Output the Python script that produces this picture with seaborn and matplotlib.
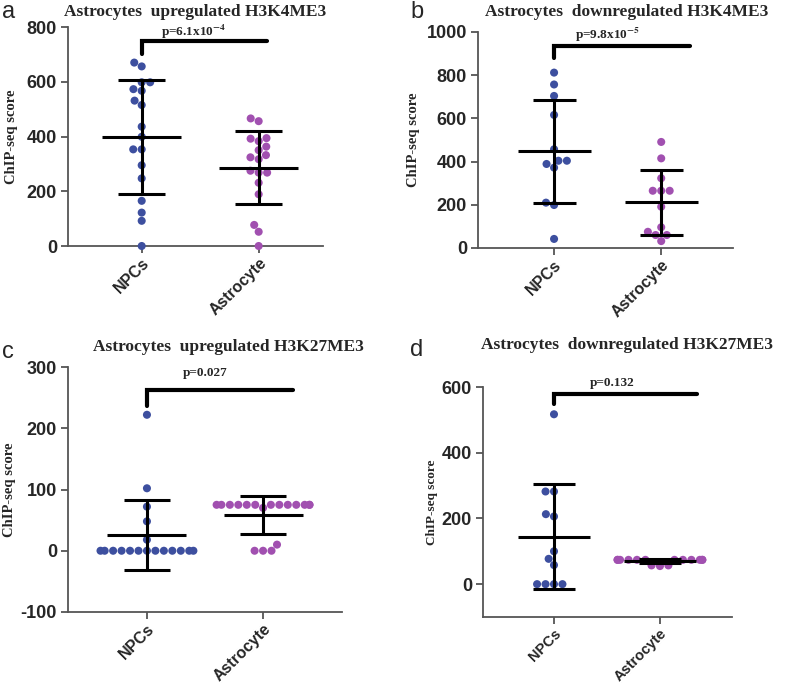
import numpy as np
import pandas as pd
import matplotlib
matplotlib.use("Agg")
import matplotlib.pyplot as plt
import seaborn as sns

groups = ["NPCs", "Astrocyte"]
colors = ["#3d4f9f", "#a150b0"]

# values (ChIP-seq scores)
a_npc = [670, 656, 598, 598, 573, 567, 531, 515, 436, 399, 353, 353, 295, 247, 165, 122, 92, 0]
a_ast = [466, 456, 394, 392, 383, 363, 350, 332, 324, 317, 275, 268, 268, 231, 189, 77, 52, 0]
b_npc = [812, 757, 704, 616, 457, 404, 404, 389, 372, 210, 199, 42]
b_ast = [491, 415, 323, 265, 265, 265, 191, 96, 75, 60, 60, 32]
c_npc = [222, 102, 72, 48, 18] + [0] * 13
c_ast = [75] * 13 + [70, 10, 0, 0, 0]
d_npc = [517, 282, 282, 213, 206, 100, 77, 58, 0, 0, 0, 0]
d_ast = [74] * 12 + [57, 57, 55]

titles = ["Astrocytes  upregulated H3K4ME3", "Astrocytes  downregulated H3K4ME3",
          "Astrocytes  upregulated H3K27ME3", "Astrocytes  downregulated H3K27ME3"]
letters = ["a", "b", "c", "d"]
pvals = [r"p=6.1x10$^{\mathbf{-4}}$", r"p=9.8x10$^{\mathbf{-5}}$", "p=0.027", "p=0.132"]
ylims = [(0, 800), (0, 1000), (-100, 300), (-100, 600)]
yticks = [np.arange(0, 801, 200), np.arange(0, 1001, 200),
          np.arange(-100, 301, 100), np.arange(0, 601, 200)]
xlims = [(-0.63, 1.55), (-0.71, 1.67), (-0.68, 1.68), (-0.67, 1.68)]
# bracket: y level, drop-to level, right end, text x, text y
brackets = [(750, 700, 1.07, 0.44, 782), (935, 880, 1.27, 0.5, 986),
            (262, 236, 1.26, 0.5, 290), (580, 548, 1.35, 0.55, 612)]
# axes boxes in pixels: left, top, right, bottom
boxes = [(68, 27, 323, 246), (478, 32, 733, 248), (68, 367, 342, 612), (483, 387, 732, 617)]
ylab_x = [-0.196, -0.227, -0.19, -0.18]
ylab_size = [10.5, 10.5, 10.5, 9.5]
xlab_size = [11.5, 11.5, 11.5, 10.5]
title_pos = [(195, 12), (627, 12), (228, 347), (627, 345)]
letter_pos = [(2, 12), (410, 12), (2, 352), (410, 350)]

data = [(a_npc, a_ast), (b_npc, b_ast), (c_npc, c_ast), (d_npc, d_ast)]

sns.set_style("ticks")
plt.rcParams["font.family"] = ["Liberation Sans", "DejaVu Sans"]
plt.rcParams["mathtext.fontset"] = "stix"
plt.rcParams["axes.unicode_minus"] = False

W, H = 800, 685
fig = plt.figure(figsize=(8, 6.85), dpi=100)

for i, (npc, ast) in enumerate(data):
    l, t, r, b = boxes[i]
    ax = fig.add_axes([l / W, 1 - b / H, (r - l) / W, (b - t) / H])
    df = pd.DataFrame({"group": ["NPCs"] * len(npc) + ["Astrocyte"] * len(ast),
                       "score": npc + ast})
    sns.swarmplot(data=df, x="group", y="score", hue="group", order=groups,
                  hue_order=groups, palette=colors, size=5.8, legend=False,
                  ax=ax, clip_on=False, zorder=3)
    for k, vals in enumerate((npc, ast)):
        m = np.mean(vals)
        s = np.std(vals, ddof=1)
        ax.hlines(m, k - 0.34, k + 0.34, color="black", lw=2.2, zorder=4)
        ax.hlines([m - s, m + s], k - 0.2, k + 0.2, color="black", lw=2.2, zorder=4)
        ax.vlines(k, m - s, m + s, color="black", lw=2.2, zorder=4)
    yb, yd, xr, tx, ty = brackets[i]
    ax.plot([0, 0, xr], [yd, yb, yb], color="black", lw=3, clip_on=False,
            solid_joinstyle="miter")
    ax.text(tx, ty, pvals[i], ha="center", va="center", fontsize=9.5,
            fontweight="bold", family="Liberation Serif")
    ax.set_xlim(*xlims[i])
    ax.set_ylim(*ylims[i])
    ax.set_yticks(yticks[i])
    ax.set_xlabel("")
    ax.set_ylabel("ChIP-seq score", fontsize=ylab_size[i], fontweight="bold",
                  family="Liberation Serif")
    ax.yaxis.set_label_coords(ylab_x[i], 0.5)
    ax.set_xticks([0, 1])
    ax.set_xticklabels(groups, rotation=45, ha="right", rotation_mode="anchor",
                       fontsize=xlab_size[i], fontweight="bold")
    for lab in ax.get_yticklabels():
        lab.set_fontweight("bold")
        lab.set_fontsize(13)
    ax.tick_params(width=1.3, length=5, color="#555555", pad=3)
    ax.tick_params(axis="x", pad=2)
    sns.despine(ax=ax)
    for sp in ("left", "bottom"):
        ax.spines[sp].set_color("#555555")
        ax.spines[sp].set_linewidth(1.3)
    tx_, ty_ = title_pos[i]
    fig.text(tx_ / W, 1 - ty_ / H, titles[i], ha="center", va="center",
             fontsize=12.5, fontweight="bold", family="Liberation Serif")
    lx, ly = letter_pos[i]
    fig.text(lx / W, 1 - ly / H, letters[i], ha="left", va="center", fontsize=17)

fig.savefig("out.png", dpi=100)
